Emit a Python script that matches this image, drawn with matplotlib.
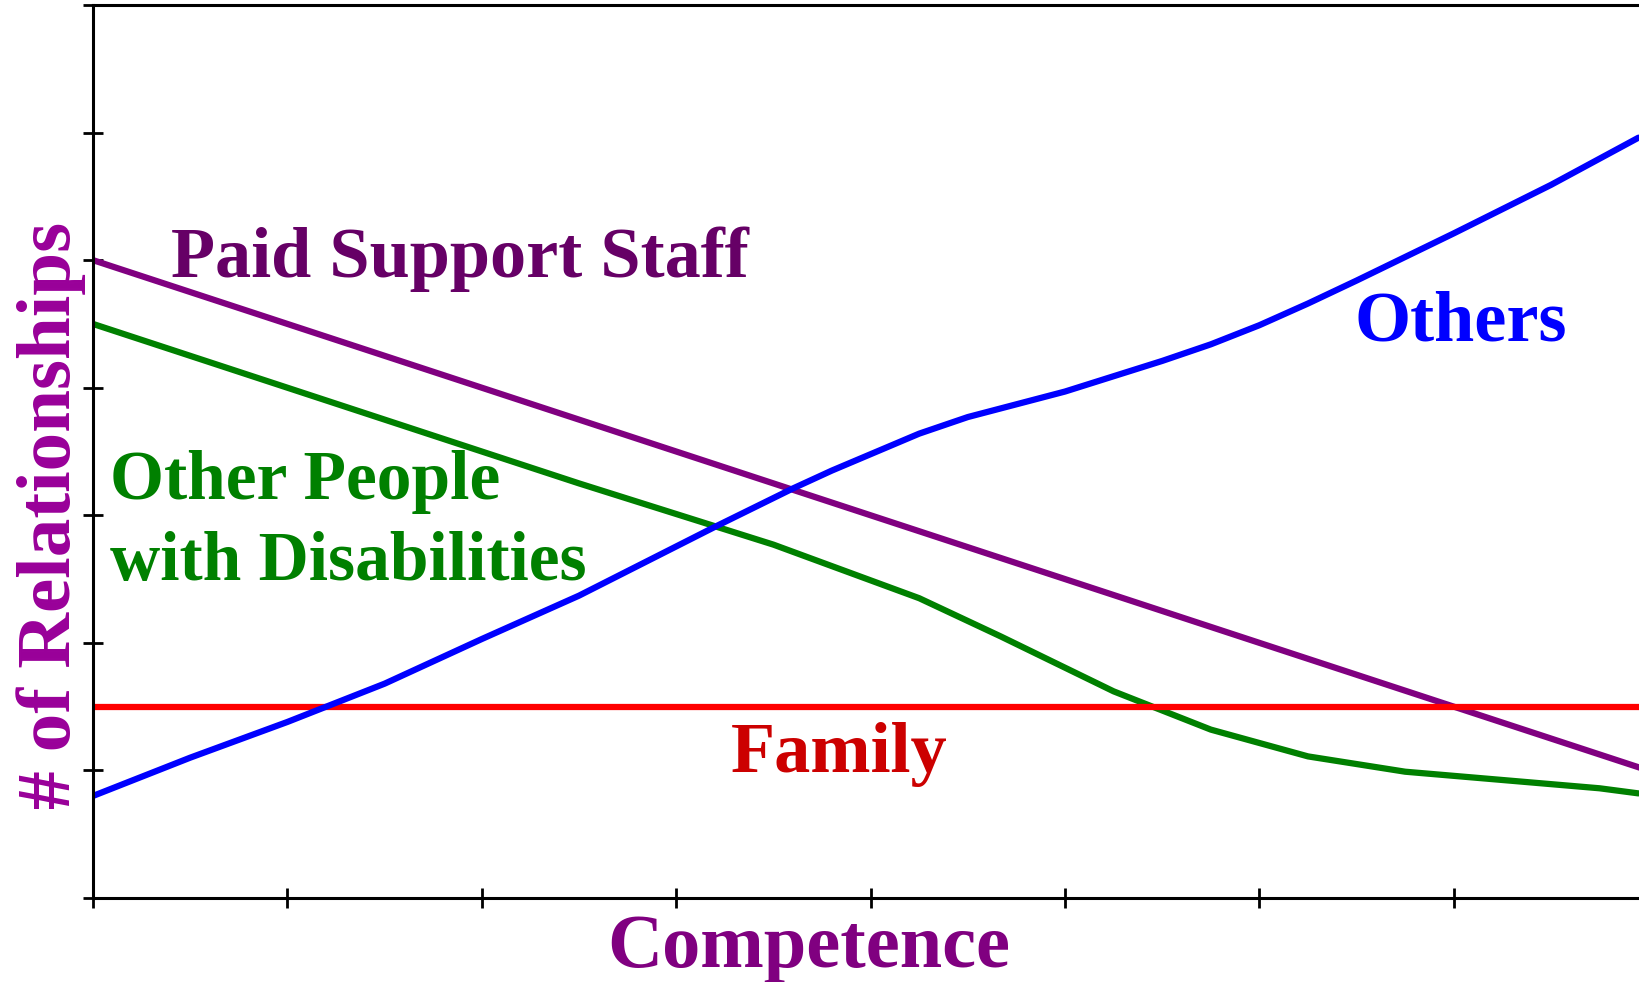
import matplotlib
matplotlib.use("Agg")
import matplotlib.pyplot as plt

# competence (x) vs number of relationships (y) for each group
paid_x = [0.0, 8.0]
paid_y = [5.0, 1.0]

disab_x = [0.0, 2.5, 3.5, 4.25, 4.67, 5.25, 5.75, 6.25, 6.75, 7.75, 7.95]
disab_y = [4.5, 3.25, 2.77, 2.35, 2.05, 1.62, 1.32, 1.11, 0.99, 0.86, 0.82]

others_x = [0.0, 0.5, 1.0, 1.5, 2.0, 2.5, 3.2, 3.6, 3.8, 4.25, 4.5, 5.0, 5.5, 5.75, 6.0, 6.25, 6.5, 7.0, 7.5, 7.95]
others_y = [0.80, 1.10, 1.38, 1.68, 2.03, 2.37, 2.91, 3.21, 3.35, 3.64, 3.77, 3.97, 4.21, 4.34, 4.49, 4.66, 4.84, 5.21, 5.59, 5.96]

family_x = [0.0, 8.0]
family_y = [1.5, 1.5]

x_ticks = [0, 1, 2, 3, 4, 5, 6, 7]
y_ticks = [0, 1, 2, 3, 4, 5, 6, 7]

W, H = 1639, 982
fig = plt.figure(figsize=(W / 100, H / 100), dpi=100)
ax = fig.add_axes([93 / W, (H - 898) / H, (W - 93) / W, (898 - 5) / H])

lw = 4.5
for xs, ys, c in [(paid_x, paid_y, "#800080"),
                  (disab_x, disab_y, "#008000"),
                  (family_x, family_y, "#ff0000"),
                  (others_x, others_y, "#0000ff")]:
    ax.plot(xs, ys, color=c, lw=lw, solid_capstyle="round", solid_joinstyle="round")

ax.set_xlim(0, (W - 93) / 194.4)
ax.set_ylim(0, 7)
ax.set_xticks(x_ticks)
ax.set_yticks(y_ticks)
ax.set_xticklabels([])
ax.set_yticklabels([])
ax.tick_params(direction="inout", length=15, width=2.0, color="black")
for side in ("left", "bottom", "top"):
    ax.spines[side].set_linewidth(2.2)
ax.spines["right"].set_visible(False)

serif = dict(family="Liberation Serif", weight="bold")

ax.text(0.4, 4.87, "Paid Support Staff", color="#660066", ha="left", va="baseline", fontsize=52, **serif)
ax.text(6.49, 4.37, "Others", color="#0000ff", ha="left", va="baseline", fontsize=52, **serif)
ax.text(0.09, 3.13, "Other People", color="#008000", ha="left", va="baseline", fontsize=50, **serif)
ax.text(0.09, 2.49, "with Disabilities", color="#008000", ha="left", va="baseline", fontsize=50, **serif)
ax.text(3.28, 0.99, "Family", color="#cc0000", ha="left", va="baseline", fontsize=52, **serif)

fig.text(809 / W, 1 - 967 / H, "Competence", color="#800080", ha="center", va="baseline",
         fontsize=55, **serif)
fig.text(70 / W, 1 - 515 / H, "# of Relationships", color="#990099", ha="center", va="baseline",
         rotation=90, rotation_mode="anchor", fontsize=55.5, **serif)

fig.savefig("out.png", dpi=100, facecolor="white")
